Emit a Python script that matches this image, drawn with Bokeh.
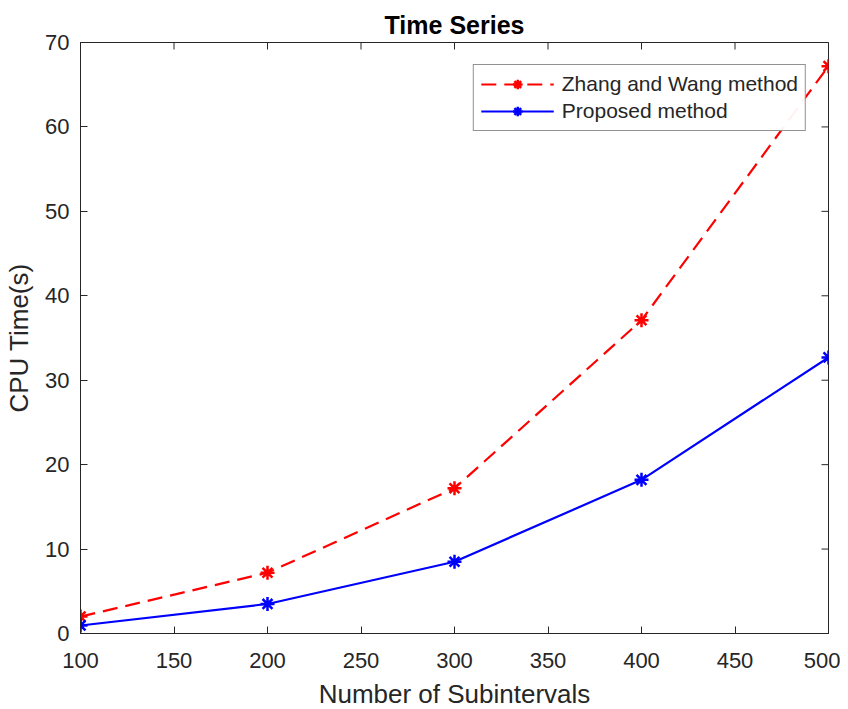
import math
from bokeh.plotting import figure
from bokeh.models import Range1d, FixedTicker, Legend, LegendItem
from bokeh.embed import file_html
from bokeh.resources import INLINE

subintervals = [100, 200, 300, 400, 500]
zhang_wang = [2.0, 7.2, 17.2, 37.1, 67.2]
proposed = [0.95, 3.5, 8.5, 18.2, 32.7]
x_ticks = [100, 150, 200, 250, 300, 350, 400, 450, 500]
y_ticks = [0, 10, 20, 30, 40, 50, 60, 70]

FONT = "Liberation Sans"
AX = "#262626"

p = figure(frame_width=748, frame_height=591, output_backend="svg", toolbar_location=None,
           x_range=Range1d(x_ticks[0], x_ticks[-1]), y_range=Range1d(y_ticks[0], y_ticks[-1]),
           min_border_left=80, min_border_right=12, min_border_top=42, min_border_bottom=60)
p.title.text = "Time Series"
p.title.align = "center"
p.title.vertical_align = "top"
p.title.text_font = FONT
p.title.text_font_size = "25px"
p.title.text_font_style = "bold"
p.title.text_color = "black"
p.title.standoff = 3
p.grid.visible = False
p.outline_line_color = AX
p.outline_line_width = 1

for ax in [p.xaxis[0], p.yaxis[0]]:
    ax.axis_line_color = AX
    ax.major_tick_line_color = AX
    ax.major_tick_in = 7
    ax.major_tick_out = 0
    ax.minor_tick_line_color = None
    ax.major_label_text_font = FONT
    ax.major_label_text_font_size = "22px"
    ax.major_label_text_color = AX
    ax.axis_label_text_font = FONT
    ax.axis_label_text_font_size = "26px"
    ax.axis_label_text_font_style = "normal"
    ax.axis_label_text_color = AX

p.xaxis.ticker = FixedTicker(ticks=x_ticks)
p.yaxis.ticker = FixedTicker(ticks=y_ticks)
p.xaxis.axis_label = "Number of Subintervals"
p.yaxis.axis_label = "CPU Time(s)"
p.xaxis.major_label_standoff = 19
p.yaxis.major_label_standoff = 11
p.xaxis.axis_label_standoff = 8
p.yaxis.axis_label_standoff = 8

# box ticks on the top and right edges (half of each dash is clipped by the frame)
p.scatter(x_ticks, [y_ticks[-1]] * len(x_ticks), marker="dash", angle=math.pi / 2,
          size=14, line_color=AX, line_width=1)
p.scatter([x_ticks[-1]] * len(y_ticks), y_ticks, marker="dash",
          size=14, line_color=AX, line_width=1)

l1 = p.line(subintervals, zhang_wang, line_color="red", line_width=2.2, line_dash="15 8")
s1 = p.scatter(subintervals, zhang_wang, marker="asterisk", size=14, line_color="red", line_width=2.5)
l2 = p.line(subintervals, proposed, line_color="blue", line_width=2.2)
s2 = p.scatter(subintervals, proposed, marker="asterisk", size=14, line_color="blue", line_width=2.5)

legend = Legend(items=[LegendItem(label="Zhang and Wang method", renderers=[l1, s1]),
                       LegendItem(label="Proposed method", renderers=[l2, s2])],
                location="top_right")
legend.margin = 22
legend.padding = 7
legend.spacing = 3
legend.glyph_width = 73
legend.label_height = 24
legend.glyph_height = 24
legend.label_text_font = FONT
legend.label_text_font_size = "21px"
legend.label_text_color = AX
legend.border_line_color = AX
legend.border_line_width = 1
legend.label_standoff = 8
p.add_layout(legend)

open("out.html", "w").write(file_html(p, INLINE))
